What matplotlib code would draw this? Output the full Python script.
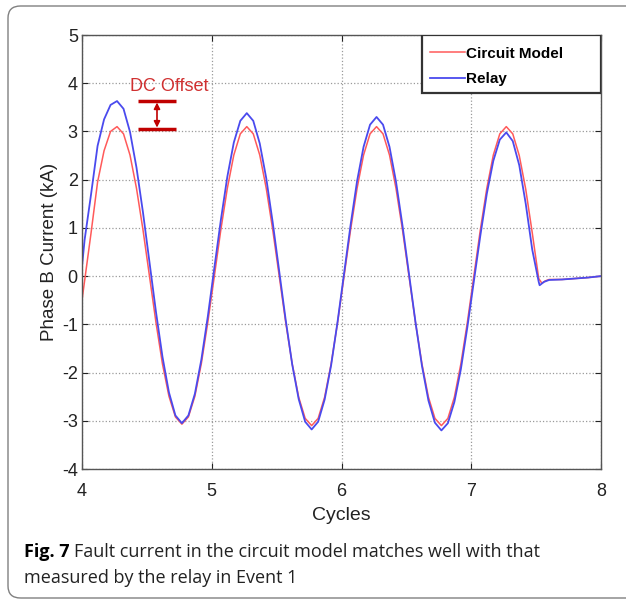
import numpy as np
import matplotlib.pyplot as plt
from matplotlib.patches import FancyBboxPatch, Rectangle

# sample times shared by both traces (cycles), plus the start point and the tails
t_start = [4.00]
t_grid = np.round(np.arange(4.02, 7.53, 0.05), 2)

# Circuit model (red) in kA
model_start = [-0.50]
model_grid = [
    -0.10, 0.90, 1.95, 2.60, 3.00, 3.10,
    2.95, 2.51, 1.82, 0.96, 0.00, -0.96, -1.82, -2.49, -2.92, -3.07,
    -2.92, -2.49, -1.81, -0.95, 0.00, 0.96, 1.82, 2.51, 2.95, 3.10,
    2.95, 2.51, 1.82, 0.96, 0.00, -0.96, -1.82, -2.51, -2.95, -3.10,
    -2.95, -2.51, -1.82, -0.96, 0.00, 0.96, 1.82, 2.51, 2.95, 3.10,
    2.95, 2.51, 1.82, 0.96, 0.00, -0.96, -1.82, -2.51, -2.95, -3.10,
    -2.95, -2.51, -1.82, -0.96, 0.00, 0.96, 1.82, 2.51, 2.95, 3.10,
    2.95, 2.50, 1.80, 0.90, -0.05,
]
model_tail_t = [7.545, 7.57, 7.60, 7.70, 7.80, 7.90, 8.00]
model_tail = [-0.15, -0.10, -0.07, -0.07, -0.05, -0.03, 0.00]

# Relay record (blue) in kA
relay_start = [0.20]
relay_grid = [
    0.75, 1.70, 2.70, 3.25, 3.55, 3.63,
    3.47, 2.99, 2.25, 1.32, 0.29, -0.74, -1.67, -2.41, -2.89, -3.05,
    -2.89, -2.44, -1.73, -0.83, 0.17, 1.16, 2.06, 2.77, 3.22, 3.38,
    3.22, 2.75, 2.03, 1.11, 0.10, -0.91, -1.83, -2.55, -3.02, -3.18,
    -3.02, -2.56, -1.85, -0.94, 0.06, 1.06, 1.97, 2.68, 3.14, 3.30,
    3.14, 2.68, 1.96, 1.05, 0.05, -0.95, -1.86, -2.58, -3.04, -3.20,
    -3.05, -2.61, -1.93, -1.06, -0.11, 0.84, 1.71, 2.39, 2.83, 2.98,
    2.80, 2.30, 1.50, 0.55, -0.12,
]
relay_tail_t = [7.527, 7.56, 7.60, 7.70, 7.80, 7.90, 8.00]
relay_tail = [-0.19, -0.12, -0.08, -0.07, -0.05, -0.03, 0.00]

x_ticks = [4, 5, 6, 7, 8]
y_ticks = [-4, -3, -2, -1, 0, 1, 2, 3, 4, 5]

t_model = np.concatenate([t_start, t_grid, model_tail_t])
i_model = np.concatenate([model_start, model_grid, model_tail])
t_relay = np.concatenate([t_start, t_grid, relay_tail_t])
i_relay = np.concatenate([relay_start, relay_grid, relay_tail])

plt.rcParams['font.family'] = ['Liberation Sans', 'DejaVu Sans']
plt.rcParams['axes.unicode_minus'] = False

fig = plt.figure(figsize=(6.26, 6.02), dpi=100)

# rounded frame around the figure panel
frame = FancyBboxPatch((8 / 626, 4 / 602), 660 / 626, 592 / 602,
                       boxstyle='round,pad=0,rounding_size=0.02',
                       transform=fig.transFigure, fill=False,
                       edgecolor='#808080', linewidth=1.0)
fig.patches.append(frame)

ax = fig.add_axes([82 / 626, 1 - 469 / 602, 519 / 626, 434 / 602])
ax.plot(t_model, i_model, color='#ff5a5a', linewidth=1.1, label='Circuit Model')
ax.plot(t_relay, i_relay, color='#4a4aee', linewidth=1.3, label='Relay')

ax.set_xlim(4, 8)
ax.set_ylim(-4, 5)
ax.set_xticks(x_ticks)
ax.set_yticks(y_ticks)
ax.tick_params(direction='in', length=4, top=True, right=True,
               labelsize=13, colors='#222222')
ax.tick_params(axis='x', pad=10)
ax.tick_params(axis='y', pad=3)
ax.grid(True, linestyle=':', color='#9a9a9a', linewidth=0.9)
for s in ax.spines.values():
    s.set_color('#555555')
    s.set_linewidth(1.0)

ax.set_xlabel('Cycles', fontsize=14, color='#222222', labelpad=5)
ax.set_ylabel('Phase B Current (kA)', fontsize=13.5, color='#222222', labelpad=3)

# MATLAB-style legend: wide box drawn by hand, entries placed inside
box = Rectangle((0.655, 0.866), 0.345, 0.134, transform=ax.transAxes,
                facecolor='white', edgecolor='#333333', linewidth=1.6, zorder=4)
ax.add_patch(box)
leg = ax.legend(loc='upper left', bbox_to_anchor=(0.6705, 0.973),
                handlelength=2.3, handletextpad=0.05, borderaxespad=0,
                borderpad=0, frameon=False, labelspacing=0.75,
                prop={'weight': 'bold', 'size': 11})
leg.set_zorder(5)

# DC offset annotation
dc = '#c00000'
ax.hlines([3.63, 3.05], 4.432, 4.724, color=dc, linewidth=2.5)
ax.annotate('', xy=(4.578, 3.08), xytext=(4.578, 3.60),
            arrowprops=dict(arrowstyle='<|-|>', color=dc, lw=1.2,
                            mutation_scale=9, shrinkA=0, shrinkB=0))
ax.text(4.67, 3.94, 'DC Offset', color='#d03030', fontsize=13,
        ha='center', va='center')

# caption
cap = fig.text(24 / 626, 1 - 557 / 602, 'Fig. 7', fontsize=13,
               family='Open Sans', fontweight='bold', va='baseline')
ax.annotate('Fault current in the circuit model matches well with that',
            xy=(1, 0), xycoords=cap, xytext=(3.5, 0), textcoords='offset points',
            fontsize=13, family='Open Sans', va='bottom', color='#222222',
            annotation_clip=False)
fig.text(24 / 626, 1 - 583 / 602, 'measured by the relay in Event 1',
         fontsize=13, family='Open Sans', va='baseline', color='#222222')

fig.savefig('out.png', dpi=100)
